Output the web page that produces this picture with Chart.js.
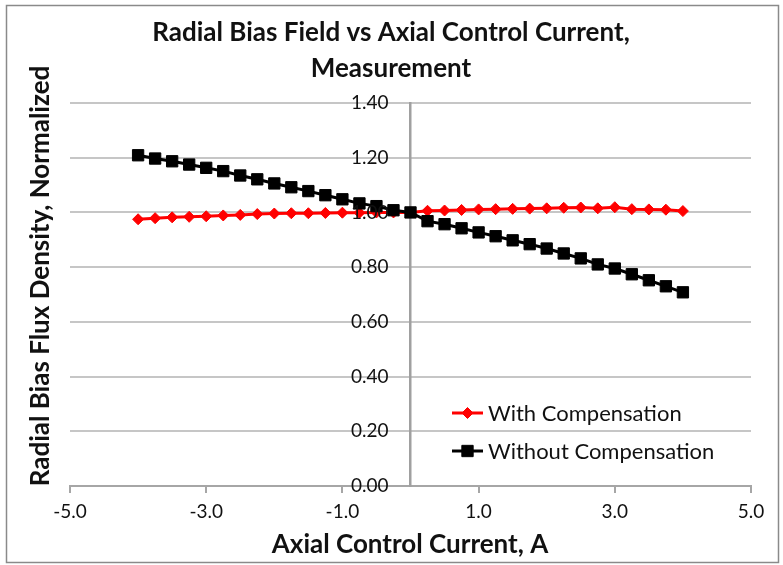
<!DOCTYPE html>
<html>
<head>
<meta charset="utf-8">
<script src="https://cdn.jsdelivr.net/npm/chart.js@4.4.1/dist/chart.umd.min.js"></script>
<style>
html, body { margin: 0; padding: 0; background: #fff; }
#wrap { position: relative; width: 783px; height: 565px; }
</style>
</head>
<body>
<div id="wrap"><canvas id="c" width="783" height="565"></canvas></div>
<script>
// Axial control current (A)
const currentA = [-4.00, -3.75, -3.50, -3.25, -3.00, -2.75, -2.50, -2.25, -2.00, -1.75, -1.50,
                  -1.25, -1.00, -0.75, -0.50, -0.25, 0.00, 0.25, 0.50, 0.75, 1.00, 1.25,
                  1.50, 1.75, 2.00, 2.25, 2.50, 2.75, 3.00, 3.25, 3.50, 3.75, 4.00];

// Normalized radial bias flux density
const withCompensation = [0.975, 0.979, 0.982, 0.984, 0.986, 0.989, 0.991, 0.994, 0.996, 0.997, 0.997,
                          0.998, 0.999, 0.999, 1.000, 1.000, 1.000, 1.006, 1.007, 1.009, 1.011, 1.012,
                          1.013, 1.014, 1.015, 1.017, 1.018, 1.015, 1.019, 1.012, 1.011, 1.010, 1.005];
const withoutCompensation = [1.209, 1.197, 1.187, 1.175, 1.163, 1.151, 1.135, 1.121, 1.106, 1.092, 1.078,
                             1.063, 1.048, 1.033, 1.023, 1.008, 1.000, 0.968, 0.957, 0.942, 0.927, 0.913,
                             0.898, 0.884, 0.868, 0.850, 0.832, 0.810, 0.795, 0.774, 0.752, 0.730, 0.708];

const seriesNames = ['With Compensation', 'Without Compensation'];
const xTickValues = [-5, -3, -1, 1, 3, 5];
const yTickValues = [0, 0.2, 0.4, 0.6, 0.8, 1.0, 1.2, 1.4];
const titleLines = ['Radial Bias Field vs Axial Control Current,', 'Measurement'];
const xAxisTitle = 'Axial Control Current, A';
const yAxisTitle = 'Radial Bias Flux Density, Normalized';

const toPoints = (ys) => currentA.map((x, i) => ({ x: x, y: ys[i] }));

const FONT = 'Lato, "Open Sans", sans-serif';
const TEXT = '#111111';

// Frame, titles, value-axis labels and the in-plot legend
const decor = {
  id: 'decor',
  beforeDraw(chart) {
    const ctx = chart.ctx;
    ctx.save();
    ctx.fillStyle = '#ffffff';
    ctx.fillRect(0, 0, chart.width, chart.height);
    ctx.strokeStyle = '#8a8a8a';
    ctx.lineWidth = 1.5;
    ctx.strokeRect(6.5, 5.5, 772, 557);
    ctx.restore();
  },
  afterDraw(chart) {
    const ctx = chart.ctx;
    const xs = chart.scales.x;
    const ys = chart.scales.y;
    ctx.save();
    ctx.fillStyle = TEXT;
    ctx.textAlign = 'center';
    ctx.textBaseline = 'alphabetic';
    ctx.font = 'bold 26px ' + FONT;
    ctx.fillText(titleLines[0], 391, 41);
    ctx.fillText(titleLines[1], 391, 77);

    ctx.fillText(xAxisTitle, 410, 553);

    ctx.save();
    ctx.translate(49, 276);
    ctx.rotate(-Math.PI / 2);
    ctx.fillText(yAxisTitle, 0, 0);
    ctx.restore();

    // value labels sit just left of the vertical axis crossing at x = 0
    const axisX = xs.getPixelForValue(0);
    ctx.font = '19px ' + FONT;
    ctx.textAlign = 'right';
    ctx.textBaseline = 'middle';
    ys.ticks.forEach((t) => {
      ctx.fillText(Number(t.value).toFixed(2), axisX - 22, ys.getPixelForValue(t.value));
    });

    // legend entries
    const rows = [413, 451];
    chart.data.datasets.forEach((ds, i) => {
      const y = rows[i];
      ctx.strokeStyle = ds.borderColor;
      ctx.lineWidth = ds.borderWidth;
      ctx.beginPath();
      ctx.moveTo(452, y);
      ctx.lineTo(483, y);
      ctx.stroke();
      ctx.fillStyle = ds.pointBackgroundColor;
      ctx.strokeStyle = ds.pointBorderColor;
      ctx.lineWidth = ds.pointBorderWidth;
      Chart.helpers.drawPoint(ctx, {
        pointStyle: ds.pointStyle, radius: ds.pointRadius, rotation: 0, borderWidth: ds.pointBorderWidth
      }, 467.5, y);
      ctx.fillStyle = TEXT;
      ctx.textAlign = 'left';
      ctx.textBaseline = 'alphabetic';
      ctx.font = '22px ' + FONT;
      ctx.fillText(ds.label, 488, y + 8);
    });
    ctx.restore();
  }
};

new Chart(document.getElementById('c'), {
  type: 'scatter',
  data: {
    datasets: [
      {
        label: seriesNames[0],
        data: toPoints(withCompensation),
        showLine: true,
        borderColor: '#ff0000',
        backgroundColor: '#ff0000',
        borderWidth: 3,
        pointStyle: 'rectRot',
        pointRadius: 5.5,
        pointHoverRadius: 5.5,
        pointBackgroundColor: '#ff0000',
        pointBorderColor: '#ff0000',
        pointBorderWidth: 1,
        order: 1
      },
      {
        label: seriesNames[1],
        data: toPoints(withoutCompensation),
        showLine: true,
        borderColor: '#000000',
        backgroundColor: '#000000',
        borderWidth: 3,
        pointStyle: 'rect',
        pointRadius: 8,
        pointHoverRadius: 8,
        pointBackgroundColor: '#000000',
        pointBorderColor: '#000000',
        pointBorderWidth: 1,
        order: 0
      }
    ]
  },
  options: {
    responsive: false,
    animation: false,
    events: [],
    layout: { padding: { left: 70, right: 32, top: 103, bottom: 0 } },
    plugins: {
      legend: { display: false },
      title: { display: false },
      tooltip: { enabled: false }
    },
    scales: {
      x: {
        type: 'linear',
        position: 'bottom',
        min: -5,
        max: 5,
        afterBuildTicks: (scale) => { scale.ticks = xTickValues.map(v => ({ value: v })); },
        afterFit: (scale) => { scale.height = 79; },
        grid: { drawOnChartArea: false, drawTicks: true, tickLength: 7, color: '#a6a6a6', lineWidth: 2 },
        border: { display: true, color: '#a6a6a6', width: 2 },
        ticks: {
          padding: 7,
          color: TEXT,
          font: { family: FONT, size: 19 },
          maxRotation: 0,
          callback: (v) => Number(v).toFixed(1)
        }
      },
      y: {
        type: 'linear',
        position: { x: 0 },
        min: 0,
        max: 1.4,
        afterBuildTicks: (scale) => { scale.ticks = yTickValues.map(v => ({ value: v })); },
        grid: { drawOnChartArea: true, drawTicks: false, color: '#c6c6c6', lineWidth: 2 },
        border: { display: true, color: '#a0a0a0', width: 2.5 },
        ticks: { display: false }
      }
    }
  },
  plugins: [decor]
});
</script>
</body>
</html>
